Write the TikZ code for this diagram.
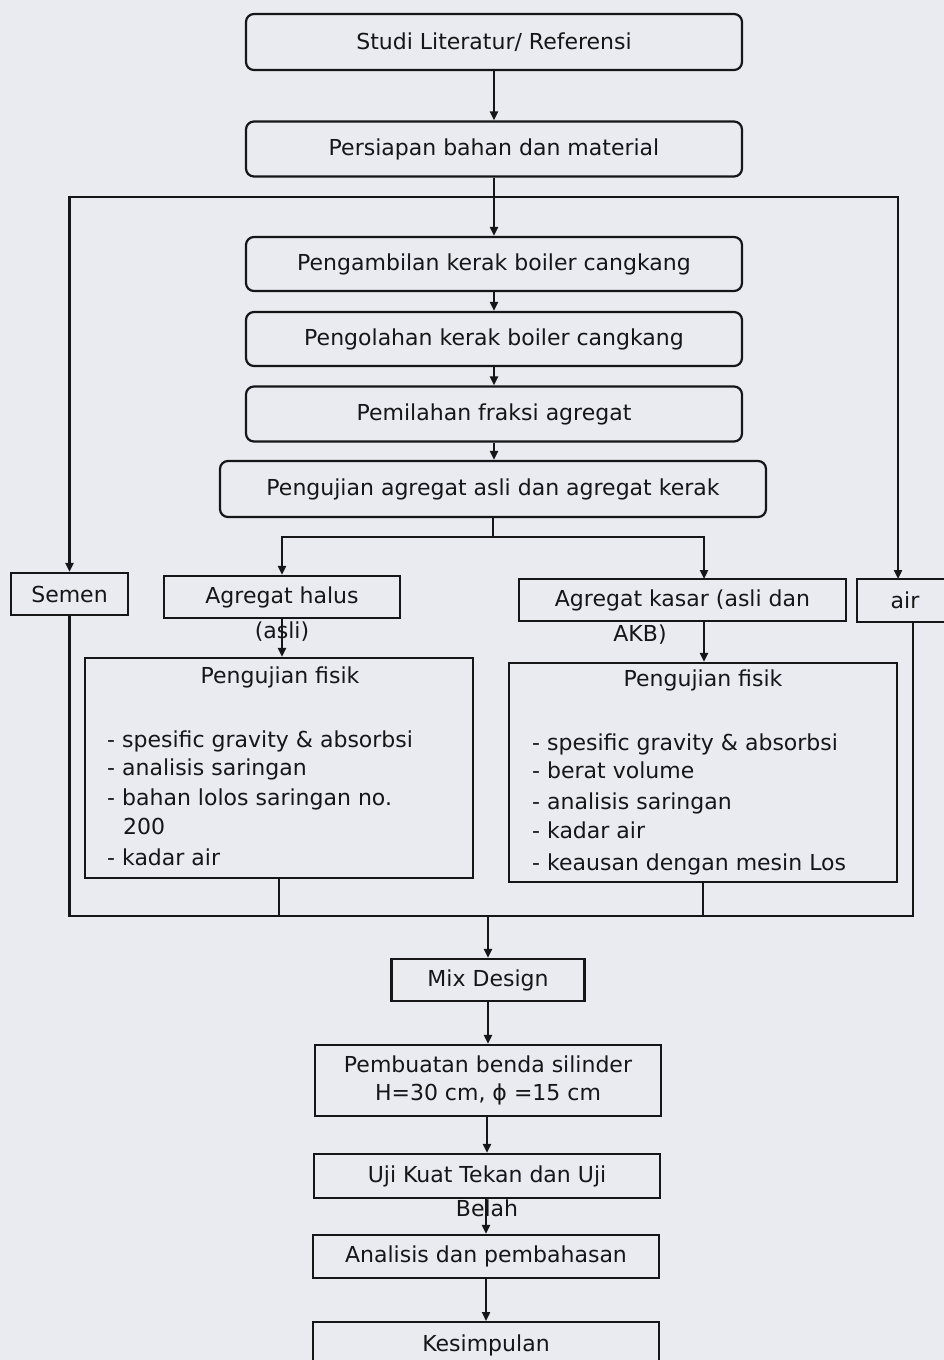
\documentclass[tikz,border=0pt]{standalone}
\usepackage{fontspec}
\setmainfont{DejaVu Sans}
\usetikzlibrary{arrows.meta,calc}
\definecolor{paper}{RGB}{233,235,241}
\definecolor{ink}{RGB}{22,22,24}
\begin{document}
\begin{tikzpicture}[x=1pt,y=-1pt,
  every node/.style={font=\fontsize{22}{28}\selectfont, text=ink},
  box/.style={draw=ink, line width=2.2pt, inner sep=0pt},
  rbox/.style={box, rounded corners=8pt},
  plain/.style={inner sep=0pt},
  item/.style={anchor=base west, inner sep=0pt},
  link/.style={draw=ink, line width=2.2pt},
  arr/.style={link, -{Triangle[length=9pt,width=8pt]}}]
\fill[paper] (0,0) rectangle (944,1360);
\useasboundingbox (0,0) rectangle (944,1360);

% main column (top)
\node[rbox, minimum width=496pt, minimum height=56pt] (lit) at (494,42) {Studi Literatur/ Referensi};
\node[rbox, minimum width=496pt, minimum height=55pt] (pers) at (494,149) {Persiapan bahan dan material};
\node[rbox, minimum width=496pt, minimum height=54pt] (amb) at (494,264) {Pengambilan kerak boiler cangkang};
\node[rbox, minimum width=496pt, minimum height=54pt] (olah) at (494,339) {Pengolahan kerak boiler cangkang};
\node[rbox, minimum width=496pt, minimum height=55pt] (pilah) at (494,414) {Pemilahan fraksi agregat};
\node[rbox, minimum width=546pt, minimum height=56pt] (uji) at (493,489) {Pengujian agregat asli dan agregat kerak};

% materials
\node[box, minimum width=117pt, minimum height=42pt] (semen) at (69.5,594) {Semen};
\node[box, minimum width=236pt, minimum height=42pt] (halus) at (282,597) {Agregat halus};
\node[box, minimum width=327pt, minimum height=42pt] (kasar) at (682.5,600) {Agregat kasar (asli dan};
\node[box, minimum width=96pt, minimum height=43pt] (air) at (905,600.5) {air};

% physical test boxes
\node[box, minimum width=388pt, minimum height=220pt] (fisikL) at (279,768) {};
\node[box, minimum width=388pt, minimum height=219pt] (fisikR) at (703,772.5) {};

% lower column
\node[box, minimum width=193pt, minimum height=42pt] (mix) at (488,980) {Mix Design};
\node[box, minimum width=346pt, minimum height=71pt, align=center] (buat) at (488,1080.5) {Pembuatan benda silinder\\H=30 cm, ϕ =15 cm};
\node[box, minimum width=346pt, minimum height=44pt] (kuat) at (487,1176) {Uji Kuat Tekan dan Uji};
\node[box, minimum width=346pt, minimum height=43pt] (anal) at (486,1256.5) {Analisis dan pembahasan};
\node[box, minimum width=346pt, minimum height=62pt, anchor=north] (kesimp) at (486,1321) {};
\node[plain] (kesimpt) at (486,1345) {Kesimpulan};

% named connection points
\coordinate (j1) at (494,197);
\coordinate (airtop) at (898,579);
\coordinate (j2) at (493,537);
\coordinate (kasarin) at (704,579);
\coordinate (airout) at (913,622);
\coordinate (j3) at (488,916);

% connectors
\draw[arr] (lit) -- (pers);
\draw[arr] (pers) -- (amb);
\draw[arr] (j1) -| (semen.north);
\draw[arr] (j1) -| (airtop);
\draw[arr] (amb) -- (olah);
\draw[arr] (olah) -- (pilah);
\draw[arr] (pilah.south) -- (pilah.south |- uji.north);
\draw[link] (uji.south) -- (j2);
\draw[arr] (j2) -| (halus.north);
\draw[arr] (j2) -| (kasarin);
\draw[arr] (halus.south) -- (halus.south |- fisikL.north);
\draw[arr] (kasarin |- kasar.south) -- (kasarin |- fisikR.north);
\draw[link] (semen.south) |- (j3) -| (airout);
\draw[link] (fisikL.south) -- (fisikL.south |- j3);
\draw[link] (fisikR.south) -- (fisikR.south |- j3);
\draw[arr] (j3) -- (mix.north);
\draw[arr] (mix) -- (buat);
\draw[arr] (kuat.north |- buat.south) -- (kuat.north);
\draw[arr] (anal.north |- kuat.south) -- (anal.north);
\draw[arr] (anal) -- (kesimp);

% overflowing second lines
\node[plain] (halus2) at (282,632) {(asli)};
\node[plain] (kasar2) at (640,635) {AKB)};
\node[plain] (kuat2) at (487,1208) {Belah};

% texts of test boxes
\node[plain] (fLt) at (280,677) {Pengujian fisik};
\node[item] (fL1) at (107,747) {- spesific gravity \& absorbsi};
\node[item] (fL2) at (107,775) {- analisis saringan};
\node[item] (fL3) at (107,805) {- bahan lolos saringan no.};
\node[item] (fL4) at (123,834) {200};
\node[item] (fL5) at (107,865) {- kadar air};

\node[plain] (fRt) at (703,680) {Pengujian fisik};
\node[item] (fR1) at (532,750) {- spesific gravity \& absorbsi};
\node[item] (fR2) at (532,778) {- berat volume};
\node[item] (fR3) at (532,809) {- analisis saringan};
\node[item] (fR4) at (532,838) {- kadar air};
\node[item] (fR5) at (532,870) {- keausan dengan mesin Los};
\end{tikzpicture}
\end{document}
